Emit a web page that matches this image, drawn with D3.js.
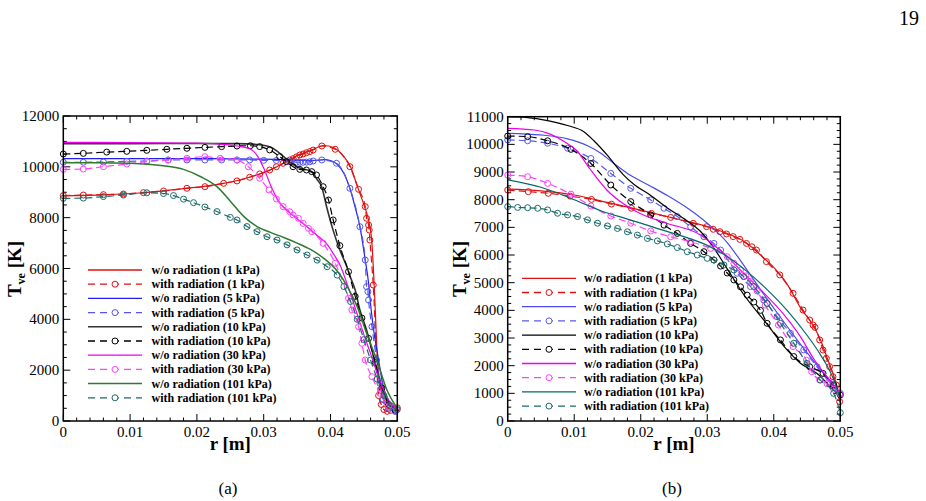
<!DOCTYPE html>
<html><head><meta charset="utf-8">
<script src="https://cdn.jsdelivr.net/npm/d3@7"></script>
<style>body{margin:0;background:#fff}svg{display:block}text{font-family:"Liberation Serif","Times New Roman",serif}</style>
</head><body>
<svg id="c" width="926" height="501"></svg>
<script>
// ---------- categories / labels ----------
const legendLabels = ["w/o radiation (1 kPa)","with radiation (1 kPa)","w/o radiation (5 kPa)","with radiation (5 kPa)",
  "w/o radiation (10 kPa)","with radiation (10 kPa)","w/o radiation (30 kPa)","with radiation (30 kPa)",
  "w/o radiation (101 kPa)","with radiation (101 kPa)"];
const xTickValues = [0,0.01,0.02,0.03,0.04,0.05];
const xTickLabels = ["0","0.01","0.02","0.03","0.04","0.05"];
const yTicksA = [0,2000,4000,6000,8000,10000,12000];
const yTicksB = [0,1000,2000,3000,4000,5000,6000,7000,8000,9000,10000,11000];
const panelCaptions = ["(a)","(b)"];

// ---------- panel (a) series: [r (m), T_ve (K)] ----------
const a_wo_1 = [[0,8860],[0.006,8900],[0.012,8980],[0.018,9140],[0.024,9350],[0.028,9600],[0.031,9880],[0.033,10140],[0.035,10440],[0.037,10640],[0.039,10840],[0.0405,10750],[0.042,10400],[0.043,10000],[0.044,9250],[0.045,8500],[0.0457,7900],[0.0462,7000],[0.0466,5000],[0.047,2600],[0.0475,1300],[0.048,850],[0.049,560],[0.05,430]];
const a_w_1 = [[0,8866],[0.003,8890],[0.006,8905],[0.009,8930],[0.012,8985],[0.015,9050],[0.0185,9155],[0.0212,9220],[0.024,9350],[0.026,9445],[0.0279,9590],[0.0294,9720],[0.0309,9875],[0.0319,10005],[0.0329,10140],[0.0339,10270],[0.0344,10320],[0.0349,10390],[0.0354,10465],[0.0359,10505],[0.0364,10555],[0.0369,10600],[0.0374,10660],[0.0387,10820],[0.0407,10690],[0.0429,10005],[0.0442,9115],[0.0452,8435],[0.0454,7975],[0.0457,7710],[0.0458,7515],[0.0459,7120],[0.0464,5350],[0.0472,1000],[0.0476,650],[0.048,450],[0.0485,380],[0.049,420],[0.0495,480],[0.05,520]];
const a_wo_5 = [[0,10320],[0.01,10320],[0.02,10320],[0.03,10300],[0.034,10270],[0.036,10250],[0.038,10260],[0.039,10280],[0.040,10250],[0.041,10100],[0.042,9750],[0.0429,9150],[0.0437,8400],[0.0444,7650],[0.0452,6330],[0.0457,5420],[0.0459,4850],[0.0464,3700],[0.0472,2400],[0.0479,1350],[0.0489,700],[0.05,430]];
const a_w_5 = [[0,10180],[0.003,10180],[0.006,10190],[0.0095,10215],[0.0125,10230],[0.0157,10270],[0.0185,10270],[0.0212,10270],[0.0237,10270],[0.026,10270],[0.0279,10270],[0.03,10255],[0.0319,10250],[0.0339,10205],[0.0349,10180],[0.0354,10180],[0.0359,10180],[0.0364,10185],[0.0369,10200],[0.0374,10230],[0.0387,10270],[0.0409,10140],[0.0429,9155],[0.0444,7645],[0.0452,6335],[0.0454,5285],[0.0456,5090],[0.0457,4760],[0.0462,3710],[0.0469,2400],[0.0474,1480],[0.0479,830],[0.0487,500],[0.0497,370]];
const a_wo_10 = [[0,10910],[0.01,10915],[0.02,10920],[0.026,10915],[0.029,10880],[0.031,10780],[0.032,10620],[0.033,10400],[0.034,10170],[0.0354,9950],[0.0365,9880],[0.0374,9750],[0.038,9500],[0.0387,9200],[0.0394,8450],[0.0404,7500],[0.0414,6730],[0.0424,6100],[0.043,5650],[0.0437,5150],[0.0444,4370],[0.0454,3580],[0.0462,2790],[0.0469,2000],[0.0477,1350],[0.0487,700],[0.05,400]];
const a_w_10 = [[0,10505],[0.003,10530],[0.0065,10580],[0.0095,10610],[0.0125,10650],[0.0155,10690],[0.0185,10730],[0.0212,10765],[0.0237,10795],[0.026,10820],[0.028,10830],[0.0294,10795],[0.0309,10665],[0.0324,10400],[0.0334,10205],[0.0344,10005],[0.0354,9900],[0.0364,9875],[0.0372,9810],[0.0379,9680],[0.0389,9220],[0.0397,8695],[0.0404,7910],[0.0414,6900],[0.0427,5875],[0.0437,4900],[0.0447,4050],[0.0457,3250],[0.0467,2300],[0.0477,1300],[0.0487,650],[0.0497,420]];
const a_wo_30 = [[0,10960],[0.01,10955],[0.02,10930],[0.024,10880],[0.026,10820],[0.028,10700],[0.029,10450],[0.030,9950],[0.031,9300],[0.032,8750],[0.033,8400],[0.034,8170],[0.036,7750],[0.038,7300],[0.0395,6950],[0.0405,6550],[0.0415,6100],[0.042,5750],[0.043,5000],[0.044,4200],[0.045,3400],[0.046,2650],[0.047,1870],[0.048,1200],[0.049,700],[0.05,450]];
const a_w_30 = [[0,9900],[0.003,9915],[0.006,10005],[0.0095,10110],[0.0125,10205],[0.0157,10270],[0.0185,10335],[0.0212,10400],[0.0235,10335],[0.026,10270],[0.0277,10005],[0.0294,9550],[0.0308,9090],[0.0319,8735],[0.0329,8435],[0.0339,8235],[0.0344,8105],[0.0352,7975],[0.0359,7775],[0.0367,7580],[0.0372,7450],[0.0389,6990],[0.0407,6205],[0.0427,4830],[0.0432,4370],[0.0442,3710],[0.0447,3055],[0.0452,2400],[0.0462,1745],[0.0474,1090],[0.0487,565],[0.0499,435]];
const a_wo_101 = [[0,10160],[0.005,10160],[0.01,10140],[0.015,10040],[0.018,9900],[0.0205,9620],[0.023,9220],[0.025,8650],[0.027,8050],[0.029,7650],[0.031,7420],[0.033,7220],[0.035,7000],[0.037,6750],[0.039,6400],[0.041,5900],[0.0425,5300],[0.044,4500],[0.0454,3450],[0.047,2350],[0.0484,1250],[0.05,500]];
const a_w_101 = [[0,8760],[0.003,8770],[0.006,8830],[0.009,8890],[0.0125,8980],[0.015,8950],[0.0165,8870],[0.018,8730],[0.0195,8590],[0.0212,8420],[0.023,8240],[0.025,8010],[0.026,7910],[0.0275,7650],[0.029,7450],[0.0305,7250],[0.032,7120],[0.0335,6930],[0.035,6730],[0.0365,6530],[0.038,6330],[0.0395,6070],[0.041,5740],[0.042,5290],[0.043,4700],[0.044,4000],[0.045,3200],[0.046,2400],[0.047,1650],[0.048,1000],[0.049,600],[0.05,450]];

// ---------- panel (b) series ----------
const b_wo_1 = [[0,8380],[0.005,8320],[0.01,8170],[0.015,7900],[0.02,7620],[0.025,7330],[0.03,7030],[0.033,6780],[0.036,6420],[0.038,6000],[0.04,5550],[0.042,4950],[0.044,4100],[0.046,3420],[0.047,2950],[0.048,2300],[0.049,1650],[0.05,850]];
const b_w_1 = [[0,8350],[0.0031,8290],[0.0061,8230],[0.0094,8130],[0.0126,8010],[0.0156,7840],[0.0186,7690],[0.0216,7505],[0.0245,7360],[0.0279,7145],[0.0299,7025],[0.0309,6930],[0.0319,6845],[0.0329,6760],[0.0339,6665],[0.0349,6565],[0.0359,6420],[0.0367,6300],[0.0374,6180],[0.0389,5760],[0.0409,5280],[0.0429,4615],[0.0444,4010],[0.0454,3650],[0.0459,3470],[0.0462,3385],[0.0469,2930],[0.0474,2565],[0.0479,2265],[0.0484,1965],[0.0489,1600],[0.0494,1300],[0.0499,700]];
const b_wo_5 = [[0,10400],[0.005,10340],[0.009,10200],[0.012,9950],[0.014,9680],[0.016,9300],[0.018,8950],[0.021,8550],[0.024,8150],[0.027,7700],[0.03,7150],[0.033,6450],[0.035,5800],[0.038,4750],[0.041,3750],[0.044,2780],[0.047,1870],[0.049,1250],[0.05,950]];
const b_w_5 = [[0,10160],[0.003,10130],[0.006,10040],[0.009,9860],[0.0125,9490],[0.0155,8950],[0.0185,8410],[0.0215,7990],[0.0235,7690],[0.0255,7390],[0.0275,7020],[0.0295,6660],[0.031,6420],[0.032,6180],[0.0345,5340],[0.0365,4860],[0.0385,4370],[0.0405,3770],[0.0425,3170],[0.0445,2570],[0.0465,1960],[0.0485,1360],[0.05,1000]];
const b_wo_10 = [[0,11000],[0.003,10970],[0.006,10860],[0.009,10680],[0.0115,10450],[0.013,10120],[0.015,9600],[0.0174,8900],[0.019,8550],[0.0214,8170],[0.024,7700],[0.0264,7330],[0.029,6850],[0.031,6250],[0.033,5500],[0.0354,4600],[0.0389,3530],[0.042,2570],[0.044,2090],[0.0465,1720],[0.049,1120],[0.05,900]];
const b_w_10 = [[0,10300],[0.003,10280],[0.006,10130],[0.0095,9820],[0.0125,9310],[0.0155,8530],[0.0185,7930],[0.0215,7450],[0.0235,7080],[0.0255,6780],[0.0275,6420],[0.0295,6120],[0.031,5820],[0.032,5600],[0.033,5350],[0.034,5100],[0.035,4850],[0.036,4550],[0.037,4300],[0.038,4000],[0.039,3530],[0.041,2930],[0.043,2330],[0.0454,1960],[0.0474,1720],[0.049,1300],[0.05,940]];
const b_wo_30 = [[0,10580],[0.004,10520],[0.0064,10370],[0.0085,10100],[0.0104,9770],[0.0124,9100],[0.0149,8350],[0.0174,7850],[0.0199,7500],[0.0239,7150],[0.029,6720],[0.031,6350],[0.033,5950],[0.035,5450],[0.038,4750],[0.0414,3880],[0.044,3050],[0.046,2250],[0.048,1600],[0.05,1000]];
const b_w_30 = [[0,8890],[0.003,8830],[0.006,8590],[0.0095,8200],[0.0125,7770],[0.0155,7410],[0.0185,7150],[0.0215,6870],[0.0245,6660],[0.0275,6480],[0.0305,6240],[0.033,5940],[0.034,5700],[0.035,5460],[0.0358,5250],[0.0365,5040],[0.0375,4700],[0.0387,4190],[0.0407,3470],[0.0429,2690],[0.0449,2200],[0.0457,1780],[0.0469,1480],[0.048,1350],[0.049,1150],[0.05,980]];
const b_wo_101 = [[0,8720],[0.005,8450],[0.01,8000],[0.014,7600],[0.018,7300],[0.022,7000],[0.026,6700],[0.03,6350],[0.033,5950],[0.036,5400],[0.039,4750],[0.042,4000],[0.045,3100],[0.047,2400],[0.049,1500],[0.05,800]];
const b_w_101 = [[0,7750],[0.0015,7720],[0.003,7710],[0.0045,7690],[0.006,7630],[0.0075,7510],[0.009,7450],[0.0105,7390],[0.012,7270],[0.0135,7150],[0.015,7050],[0.0165,6960],[0.018,6840],[0.0195,6720],[0.021,6600],[0.0225,6510],[0.024,6400],[0.0255,6270],[0.027,6120],[0.0285,6000],[0.03,5880],[0.031,5820],[0.0325,5640],[0.034,5460],[0.0355,5220],[0.037,4860],[0.039,4250],[0.041,3530],[0.043,2810],[0.045,2080],[0.047,1480],[0.049,1000],[0.05,300]];

// ---------- styles ----------
const styleA = [
  {c:"#dd1111",dash:false},{c:"#e01010",dash:true},
  {c:"#2020ee",dash:false},{c:"#5555ee",dash:true},
  {c:"#333333",dash:false,w:1.6},{c:"#000000",dash:true},
  {c:"#ee00ee",dash:false},{c:"#ff40ff",dash:true},
  {c:"#2f7a2f",dash:false,w:1.5},{c:"#1d6b6b",dash:true}];
const styleB = [
  {c:"#dd1111",dash:false},{c:"#e01010",dash:true},
  {c:"#4a4aee",dash:false},{c:"#5a5aee",dash:true},
  {c:"#000000",dash:false},{c:"#000000",dash:true},
  {c:"#ee00ee",dash:false},{c:"#ff40ff",dash:true},
  {c:"#006a6a",dash:false},{c:"#1d6b6b",dash:true}];

const svg = d3.select("#c");
const FONT = '"Liberation Serif","Times New Roman",serif';

function drawPanel(o){
  const x = d3.scaleLinear().domain([0,0.05]).range([o.L,o.R]);
  const y = d3.scaleLinear().domain([0,o.yMax]).range([o.B,o.T]);
  const g = svg.append("g");
  // ticks: major & minor on all four sides, inward
  const xMinor = d3.range(0,0.0501,0.002), yMinor = d3.range(0,o.yMax+1,o.yMinor);
  const tk = g.append("g").attr("stroke","#000").attr("stroke-width",1);
  xMinor.forEach(v=>{
    const major = Math.abs(v/0.01-Math.round(v/0.01))<1e-6, len = major?7:3.5;
    tk.append("line").attr("x1",x(v)).attr("x2",x(v)).attr("y1",o.B).attr("y2",o.B-len);
    tk.append("line").attr("x1",x(v)).attr("x2",x(v)).attr("y1",o.T).attr("y2",o.T+len);
  });
  yMinor.forEach(v=>{
    const major = o.yTicks.includes(v), len = major?7:3.5;
    tk.append("line").attr("y1",y(v)).attr("y2",y(v)).attr("x1",o.L).attr("x2",o.L+len);
    tk.append("line").attr("y1",y(v)).attr("y2",y(v)).attr("x1",o.R).attr("x2",o.R-len);
  });
  // tick labels
  xTickValues.forEach((v,i)=>{
    g.append("text").attr("x",x(v)).attr("y",o.B+16).attr("text-anchor","middle")
      .attr("font-size",15).text(xTickLabels[i]);
  });
  o.yTicks.forEach(v=>{
    g.append("text").attr("x",o.L-4).attr("y",y(v)+5).attr("text-anchor","end")
      .attr("font-size",15).text(d3.format("d")(v));
  });
  // series
  const line = d3.line().x(d=>x(d[0])).y(d=>y(d[1])).curve(d3.curveMonotoneX);
  o.series.forEach((s,i)=>{
    const st = o.style[i];
    g.append("path").attr("d",line(s)).attr("fill","none").attr("stroke",st.c)
      .attr("stroke-width",st.w||1.2).attr("stroke-dasharray",st.dash?"7,4":null);
    if(st.dash){
      g.selectAll(null).data(s).enter().append("circle")
        .attr("cx",d=>x(d[0])).attr("cy",d=>y(d[1])).attr("r",3)
        .attr("fill","none").attr("stroke",st.c).attr("stroke-width",1);
    }
  });
  // frame
  g.append("rect").attr("x",o.L).attr("y",o.T).attr("width",o.R-o.L).attr("height",o.B-o.T)
    .attr("fill","none").attr("stroke","#000").attr("stroke-width",1.5);
  // legend
  legendLabels.forEach((lab,i)=>{
    const ly = o.legY + i*14.2, st = o.style[i];
    g.append("line").attr("x1",o.legX1).attr("x2",o.legX2).attr("y1",ly).attr("y2",ly)
      .attr("stroke",st.c).attr("stroke-width",st.w||1.3).attr("stroke-dasharray",st.dash?"7,5":null);
    if(st.dash) g.append("circle").attr("cx",(o.legX1+o.legX2)/2).attr("cy",ly).attr("r",3)
      .attr("fill","#fff").attr("stroke",st.c).attr("stroke-width",1);
    g.append("text").attr("x",o.legTx).attr("y",ly+4).attr("font-size",12).attr("font-weight","bold").text(lab);
  });
  // axis titles
  g.append("text").attr("x",(o.L+o.R)/2).attr("y",o.B+29).attr("text-anchor","middle")
    .attr("font-size",19).attr("font-weight","bold").text("r [m]");
  const yt = g.append("text").attr("transform",`translate(${o.L-42},269) rotate(-90)`)
    .attr("text-anchor","middle").attr("font-size",19).attr("font-weight","bold");
  yt.append("tspan").text("T");
  yt.append("tspan").attr("font-size",12).attr("dy",4).text("ve");
  yt.append("tspan").attr("dy",-4).text(" [K]");
  // caption
  g.append("text").attr("x",o.capX).attr("y",494).attr("text-anchor","middle")
    .attr("font-size",17).text(o.caption);
}

drawPanel({L:63.3,R:397.3,T:116,B:421,yMax:12000,yMinor:500,yTicks:yTicksA,
  series:[a_wo_1,a_w_1,a_wo_5,a_w_5,a_wo_10,a_w_10,a_wo_30,a_w_30,a_wo_101,a_w_101],style:styleA,
  legY:270,legX1:88,legX2:142,legTx:151.5,capX:228,caption:panelCaptions[0]});
drawPanel({L:507.7,R:840.3,T:116.7,B:421,yMax:11000,yMinor:250,yTicks:yTicksB,
  series:[b_wo_1,b_w_1,b_wo_5,b_w_5,b_wo_10,b_w_10,b_wo_30,b_w_30,b_wo_101,b_w_101],style:styleB,
  legY:278.3,legX1:522,legX2:576,legTx:584,capX:672,caption:panelCaptions[1]});

svg.append("text").attr("x",919).attr("y",25).attr("text-anchor","end").attr("font-size",20)
  .attr("font-family",FONT).text("19");
</script>
</body></html>
